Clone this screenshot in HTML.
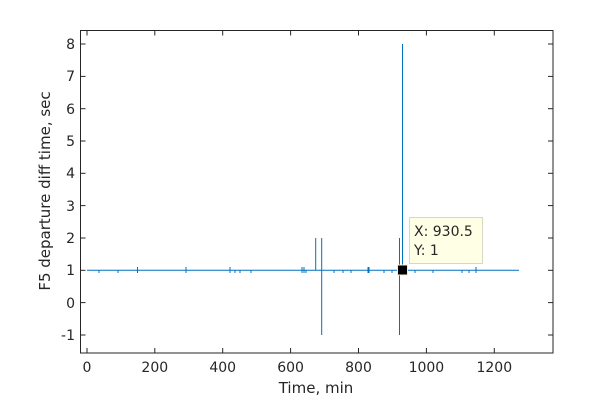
<!DOCTYPE html>
<html><head><style>
html,body{margin:0;padding:0;background:#fff;}
svg text{font-family:"DejaVu Sans","Liberation Sans",sans-serif;fill:#262626;}
</style></head><body>
<svg width="612" height="401" viewBox="0 0 612 401" xmlns="http://www.w3.org/2000/svg">
<rect width="612" height="401" fill="#fff"/>
<rect x="80.5" y="30.5" width="472.5" height="322.5" fill="#fff" stroke="#262626" stroke-width="1"/>
<g stroke="#262626" stroke-width="1">
<line x1="87" y1="353" x2="87" y2="348"/><line x1="154.8" y1="353" x2="154.8" y2="348"/>
<line x1="222.7" y1="353" x2="222.7" y2="348"/><line x1="290.6" y1="353" x2="290.6" y2="348"/>
<line x1="358.5" y1="353" x2="358.5" y2="348"/><line x1="426.4" y1="353" x2="426.4" y2="348"/>
<line x1="494.3" y1="353" x2="494.3" y2="348"/>
<line x1="87" y1="30.5" x2="87" y2="35.5"/><line x1="154.8" y1="30.5" x2="154.8" y2="35.5"/>
<line x1="222.7" y1="30.5" x2="222.7" y2="35.5"/><line x1="290.6" y1="30.5" x2="290.6" y2="35.5"/>
<line x1="358.5" y1="30.5" x2="358.5" y2="35.5"/><line x1="426.4" y1="30.5" x2="426.4" y2="35.5"/>
<line x1="494.3" y1="30.5" x2="494.3" y2="35.5"/>
</g>
<g stroke="#262626" stroke-width="1">
<line x1="80.5" y1="44" x2="85.5" y2="44"/><line x1="80.5" y1="76.4" x2="85.5" y2="76.4"/>
<line x1="80.5" y1="108.7" x2="85.5" y2="108.7"/><line x1="80.5" y1="141" x2="85.5" y2="141"/>
<line x1="80.5" y1="173.3" x2="85.5" y2="173.3"/><line x1="80.5" y1="205.6" x2="85.5" y2="205.6"/>
<line x1="80.5" y1="238" x2="85.5" y2="238"/><line x1="80.5" y1="270.3" x2="85.5" y2="270.3"/>
<line x1="80.5" y1="302.6" x2="85.5" y2="302.6"/><line x1="80.5" y1="335" x2="85.5" y2="335"/>
<line x1="553" y1="44" x2="548" y2="44"/><line x1="553" y1="76.4" x2="548" y2="76.4"/>
<line x1="553" y1="108.7" x2="548" y2="108.7"/><line x1="553" y1="141" x2="548" y2="141"/>
<line x1="553" y1="173.3" x2="548" y2="173.3"/><line x1="553" y1="205.6" x2="548" y2="205.6"/>
<line x1="553" y1="238" x2="548" y2="238"/><line x1="553" y1="270.3" x2="548" y2="270.3"/>
<line x1="553" y1="302.6" x2="548" y2="302.6"/><line x1="553" y1="335" x2="548" y2="335"/>
</g>
<g font-size="14" text-anchor="end">
<text x="75" y="49">8</text><text x="75" y="81">7</text><text x="75" y="114">6</text>
<text x="75" y="146">5</text><text x="75" y="178">4</text><text x="75" y="211">3</text>
<text x="75" y="243">2</text><text x="75" y="275">1</text><text x="75" y="308">0</text>
<text x="75" y="340">-1</text>
</g>
<g font-size="14" text-antchor="middle" text-anchor="middle">
<text x="87" y="372">0</text><text x="154.8" y="372">200</text><text x="222.7" y="372">400</text>
<text x="290.6" y="372">600</text><text x="358.5" y="372">800</text><text x="426.4" y="372">1000</text>
<text x="494.3" y="372">1200</text>
<text x="316" y="393" font-size="15">Time, min</text>
<text transform="translate(50,191) rotate(-90)" font-size="15">F5 departure diff time, sec</text>
</g>
<g stroke="#0072BD" stroke-width="1" fill="none">
<line x1="87" y1="270.3" x2="519" y2="270.3"/>
<path d="M99,270v3 M118,270v3 M137.5,267v6 M186,267v6 M230,267v6 M235,270v3 M240,270v3 M251,270v3 M302,267v6 M304,267v6 M306,270v3 M334,270v3 M343,270v3 M351,270v3 M368,267v6 M369,267v6 M384,270v3 M392,270v3 M415,270v3 M433,270v3 M462,270v3 M469,270v3 M476,267v6"/>
<line x1="315.7" y1="238" x2="315.7" y2="270.3"/>
<line x1="321.7" y1="238" x2="321.7" y2="335"/>
<line x1="399.5" y1="238" x2="399.5" y2="335"/>
<line x1="402.5" y1="44" x2="402.5" y2="270.3"/>
</g>
<rect x="397.5" y="265" width="10" height="10" fill="#000" stroke="#f4f0c8" stroke-width="1"/>
<rect x="409.5" y="217.5" width="73" height="46" fill="#ffffe6" stroke="#d8d8c0" stroke-width="1"/>
<text x="414" y="236" font-size="14" fill="#000">X: 930.5</text>
<text x="414" y="255" font-size="14" fill="#000">Y: 1</text>
</svg>
</body></html>
